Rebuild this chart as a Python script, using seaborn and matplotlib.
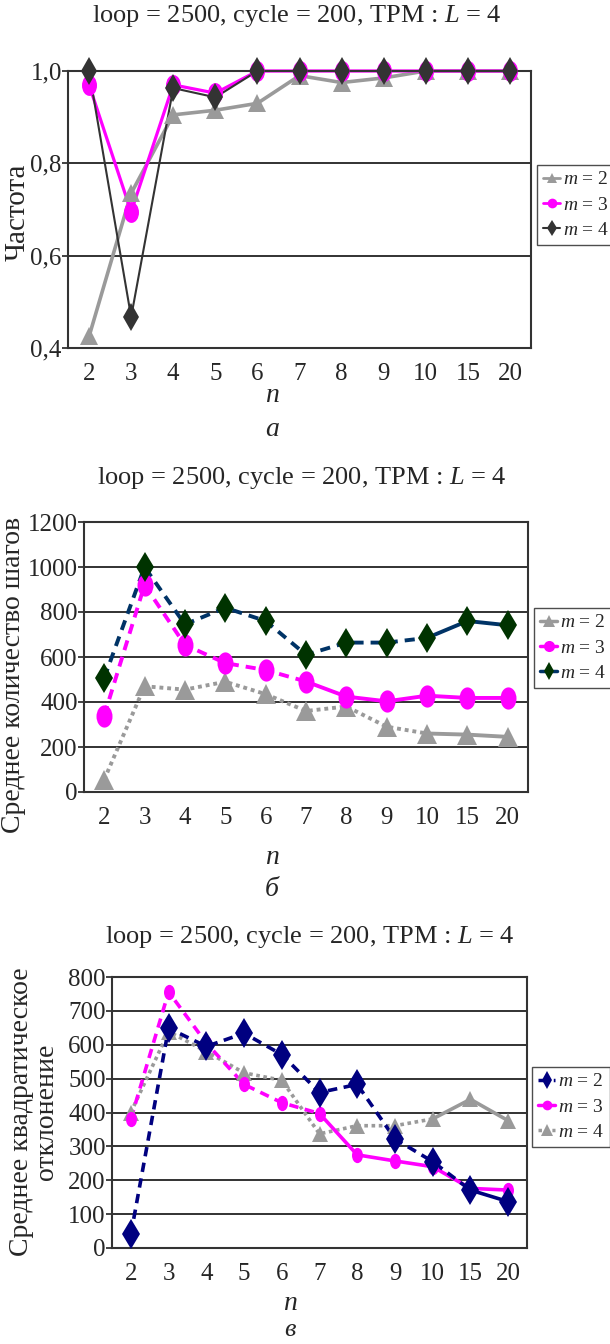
import numpy as np
import matplotlib
matplotlib.use("Agg")
import matplotlib.pyplot as plt
from matplotlib.lines import Line2D
from matplotlib.path import Path
from matplotlib.transforms import Affine2D
from matplotlib.ticker import FuncFormatter
import seaborn as sns

# categories on x (n)
n_labels = ["2", "3", "4", "5", "6", "7", "8", "9", "10", "15", "20"]

# а) частота
freq_m2 = [0.425, 0.735, 0.905, 0.915, 0.93, 0.99, 0.975, 0.985, 1.0, 1.0, 1.0]
freq_m3 = [0.97, 0.695, 0.97, 0.952, 1.0, 1.0, 1.0, 1.0, 1.0, 1.0, 1.0]
freq_m4 = [1.0, 0.467, 0.963, 0.943, 1.0, 1.0, 1.0, 1.0, 1.0, 1.0, 1.0]

# б) среднее количество шагов
steps_m2 = [55, 470, 455, 490, 435, 360, 380, 290, 260, 255, 245]
steps_m3 = [340, 920, 654, 573, 542, 491, 424, 403, 428, 418, 418]
steps_m4 = [506, 1000, 745, 819, 760, 610, 664, 664, 685, 760, 741]

# в) среднее квадратическое отклонение
std_m2 = [40, 649, 595, 634, 571, 459, 483, 322, 255, 171, 137]
std_m3 = [381, 756, 605, 483, 429, 397, 275, 257, 240, 176, 171]
std_m4 = [400, 639, 580, 517, 495, 337, 361, 361, 381, 439, 376]

legend_labels = ["$m$ = 2", "$m$ = 3", "$m$ = 4"]
title = "loop = 2500, cycle = 200, ТРМ : $L$ = 4"

sns.set_theme(style="white")
plt.rcParams["font.family"] = ["Liberation Serif", "DejaVu Serif"]
plt.rcParams["mathtext.fontset"] = "custom"
plt.rcParams["mathtext.rm"] = "Liberation Serif"
plt.rcParams["mathtext.it"] = "Liberation Serif:italic"

W, H = 610, 1344
fig = plt.figure(figsize=(W / 100, H / 100), dpi=100)
fig.patch.set_facecolor("white")


def px_axes(l, t, r, b):
    return fig.add_axes([l / W, 1 - b / H, (r - l) / W, (b - t) / H])


# tall ellipse marker, like the stretched excel circles
ellipse = Path.unit_circle().transformed(Affine2D().scale(0.72, 1.0))

GRAY = "#9a9a9a"
MAG = "#ff00ff"
DARK = "#333333"
NAVY = "#003366"
DGREEN = "#003300"
NAVY3 = "#000080"
DOT = (0, (1, 1))
DASH = (0, (2.6, 1.8))

pos = np.arange(len(n_labels))


def draw(ax, y, color, lw, parts, marker, ms, mcolor=None):
    y = np.asarray(y, dtype=float)
    for i0, i1, ls in parts:
        sns.lineplot(x=pos[i0:i1 + 1], y=y[i0:i1 + 1], ax=ax, color=color,
                     linewidth=lw, linestyle=ls, sort=False, legend=False,
                     clip_on=False, zorder=3)
    sns.lineplot(x=pos, y=y, ax=ax, color=mcolor or color, linestyle="none",
                 marker=marker, markersize=ms, markeredgewidth=0, sort=False,
                 legend=False, clip_on=False, zorder=4)


def style_axes(ax, ylim, yticks, fmt=None):
    ax.set_xlim(-0.5, len(n_labels) - 0.5)
    ax.set_ylim(*ylim)
    ax.set_yticks(yticks)
    if fmt:
        ax.yaxis.set_major_formatter(FuncFormatter(fmt))
    ax.set_xticks(pos)
    ax.set_xticklabels(n_labels)
    ax.set_xticks(np.arange(-0.5, len(n_labels), 1), minor=True)
    ax.tick_params(axis="x", which="major", length=0, pad=11, labelsize=18)
    ax.tick_params(axis="x", which="minor", length=6, width=1.2,
                   direction="out", color="#222222")
    ax.tick_params(axis="y", which="major", length=4, width=1.2,
                   direction="out", pad=0.5, labelsize=18, color="#222222",
                   left=True)
    ax.yaxis.grid(True, color="#222222", linewidth=1.3)
    ax.xaxis.grid(False)
    ax.set_axisbelow(True)
    for s in ax.spines.values():
        s.set_visible(True)
        s.set_color("#333333")
        s.set_linewidth(1.5)
    ax.set_xlabel("")
    ax.set_ylabel("")


def add_legend(handles, left, top):
    leg = fig.legend(handles, legend_labels, loc="upper left",
                     bbox_to_anchor=(left / W, 1 - top / H),
                     borderaxespad=0, frameon=True, fancybox=False,
                     edgecolor="#222222", fontsize=14, handlelength=0.9,
                     handletextpad=0.15, labelspacing=0.4, borderpad=0.3)
    leg.get_frame().set_linewidth(1.0)


def ftext(x, y, s, **kw):
    fig.text(x / W, 1 - y / H, s, ha="center", va="center", **kw)


# ---- а ----
ax1 = px_axes(68, 71, 531, 348)
draw(ax1, freq_m2, GRAY, 2.6, [(0, 10, "-")], "^", 13)
draw(ax1, freq_m3, MAG, 2.3, [(0, 10, "-")], ellipse, 15)
draw(ax1, freq_m4, DARK, 1.5, [(0, 10, "-")], "d", 14)
style_axes(ax1, (0.4, 1.0), [0.4, 0.6, 0.8, 1.0],
           lambda v, _: f"{v:.1f}".replace(".", ","))
add_legend([Line2D([], [], color=GRAY, lw=2, marker="^", ms=7, mew=0),
            Line2D([], [], color=MAG, lw=2, marker="o", ms=7, mew=0),
            Line2D([], [], color=DARK, lw=1.5, marker="d", ms=8, mew=0)],
           537, 165)
ftext(297, 16, title, fontsize=19)
ftext(18, 212, "Частота", rotation=90, fontsize=21)
ftext(272, 395, "$n$", fontsize=20)
ftext(272, 430, "а", fontsize=20, style="italic")

# ---- б ----
ax2 = px_axes(84, 522, 528, 792)
draw(ax2, steps_m2, GRAY, 2.8, [(0, 8, DOT), (8, 10, "-")], "^", 14)
draw(ax2, steps_m3, MAG, 2.8, [(0, 5, DASH), (5, 10, "-")], ellipse, 16)
draw(ax2, steps_m4, NAVY, 2.8, [(0, 8, DASH), (8, 10, "-")], "d", 15, DGREEN)
style_axes(ax2, (0, 1200), np.arange(0, 1201, 200))
add_legend([Line2D([], [], color=GRAY, lw=2.5, marker="^", ms=8, mew=0),
            Line2D([], [], color=MAG, lw=2.5, marker="o", ms=8, mew=0),
            Line2D([], [], color=NAVY, lw=2.5, marker="d", ms=9, mew=0,
                   markerfacecolor=DGREEN)],
           534, 608)
ftext(302, 478, title, fontsize=19)
ftext(14, 675, "Среднее количество шагов", rotation=90, fontsize=20)
ftext(272, 857, "$n$", fontsize=20)
ftext(272, 890, "б", fontsize=20, style="italic")

# ---- в ----
ax3 = px_axes(112, 977, 527, 1248)
draw(ax3, std_m4, GRAY, 2.6, [(0, 8, DOT), (8, 10, "-")], "^", 12)
draw(ax3, std_m3, MAG, 2.6, [(0, 5, DASH), (5, 10, "-")], ellipse, 11)
draw(ax3, std_m2, NAVY3, 2.6, [(0, 9, DASH), (9, 10, "-")], "d", 15)
style_axes(ax3, (0, 800), np.arange(0, 801, 100))
add_legend([Line2D([], [], color=NAVY3, lw=2.5, ls=DASH, marker="d", ms=9, mew=0),
            Line2D([], [], color=MAG, lw=2.5, marker="o", ms=7, mew=0),
            Line2D([], [], color=GRAY, lw=2.5, ls=DOT, marker="^", ms=8, mew=0)],
           532, 1067)
ftext(310, 937, title, fontsize=19)
ftext(34, 1112, "Среднее квадратическое\nотклонение", rotation=90,
      fontsize=20, linespacing=0.95)
ftext(290, 1303, "$n$", fontsize=20)
ftext(290, 1330, "в", fontsize=19, style="italic")

fig.savefig("out.png", dpi=100)
